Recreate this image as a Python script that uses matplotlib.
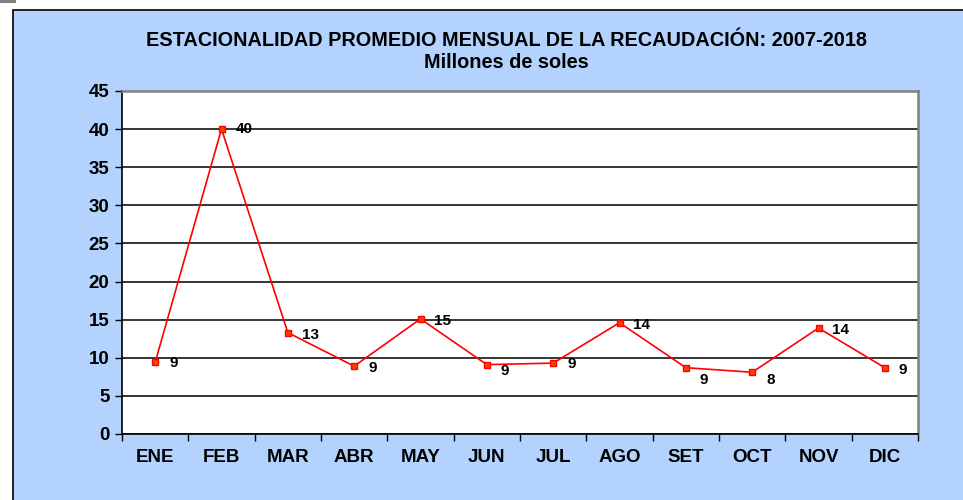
import matplotlib.pyplot as plt
from matplotlib.patches import Rectangle

months = ['ENE', 'FEB', 'MAR', 'ABR', 'MAY', 'JUN', 'JUL', 'AGO', 'SET', 'OCT', 'NOV', 'DIC']
values = [9.4, 40.0, 13.3, 8.9, 15.1, 9.1, 9.3, 14.6, 8.7, 8.1, 13.9, 8.7]
labels = ['9', '40', '13', '9', '15', '9', '9', '14', '9', '8', '14', '9']

plt.rcParams['font.family'] = ['Liberation Sans', 'DejaVu Sans']
plt.rcParams['font.weight'] = 'bold'

W, H = 963, 500
fig = plt.figure(figsize=(W / 100, H / 100), dpi=100, facecolor='white')

blue = '#B3D2FD'
# chart area background with black frame on left/top
fig.patches.append(Rectangle((13 / W, -0.1), 1.1, (H - 10) / H + 0.1, transform=fig.transFigure,
                             facecolor=blue, edgecolor='black', linewidth=1.2, zorder=-2))
fig.patches.append(Rectangle((0, (H - 3) / H), 16 / W, 3 / H, transform=fig.transFigure,
                             facecolor='#808080', edgecolor='none', zorder=-1))

left, right, top, bottom = 122, 918, 91, 434
ax = fig.add_axes([left / W, (H - bottom) / H, (right - left) / W, (bottom - top) / H])
ax.set_zorder(2)
ax.set_facecolor('white')

x = list(range(len(months)))
ax.plot(x, values, color='red', linewidth=1.2, marker='s', markersize=5,
        markerfacecolor='#FF4000', markeredgecolor='red', markeredgewidth=1, zorder=3)

# label vertical nudges (px), as in the original
dys = [1, 0, 2, 2, 2, 6, 1, 2, 12, 8, 2, 2]
for xi, v, lab, dy in zip(x, values, labels, dys):
    ax.annotate(lab, (xi, v), xytext=(10, -dy * 0.72), textcoords='offset points',
                ha='left', va='center', fontsize=11, fontweight='bold', color='black')

ax.set_xlim(-0.5, len(months) - 0.5)
ax.set_ylim(0, 45)
ax.set_yticks(range(0, 46, 5))
ax.yaxis.grid(True, color='black', linewidth=1.1)
ax.set_axisbelow(True)

ax.set_xticks([i - 0.5 for i in range(len(months) + 1)])
ax.set_xticklabels([])
ax.set_xticks(x, minor=True)
ax.set_xticklabels(months, minor=True)
ax.tick_params(axis='x', which='major', direction='out', length=5, width=1, color='black')
ax.tick_params(axis='x', which='minor', length=0, pad=11, labelsize=13.5)
ax.tick_params(axis='y', direction='out', length=5, width=1, labelsize=13.5, pad=4)
for t in ax.get_xticklabels(minor=True) + ax.get_yticklabels():
    t.set_fontweight('bold')

ax.spines['left'].set_color('black')
ax.spines['bottom'].set_color('black')
ax.spines['left'].set_linewidth(1.2)
ax.spines['bottom'].set_linewidth(1.2)
ax.spines['top'].set_color('#808080')
ax.spines['right'].set_color('#808080')
ax.spines['top'].set_linewidth(1.8)
ax.spines['right'].set_linewidth(1.8)

fig.text(506 / W, 1 - 41 / H, 'ESTACIONALIDAD PROMEDIO MENSUAL DE LA RECAUDACIÓN: 2007-2018',
         ha='center', va='center', fontsize=14.3, fontweight='bold')
fig.text(506 / W, 1 - 63 / H, 'Millones de soles', ha='center', va='center',
         fontsize=14.3, fontweight='bold')

fig.savefig('out.png', dpi=100, facecolor=fig.get_facecolor())
